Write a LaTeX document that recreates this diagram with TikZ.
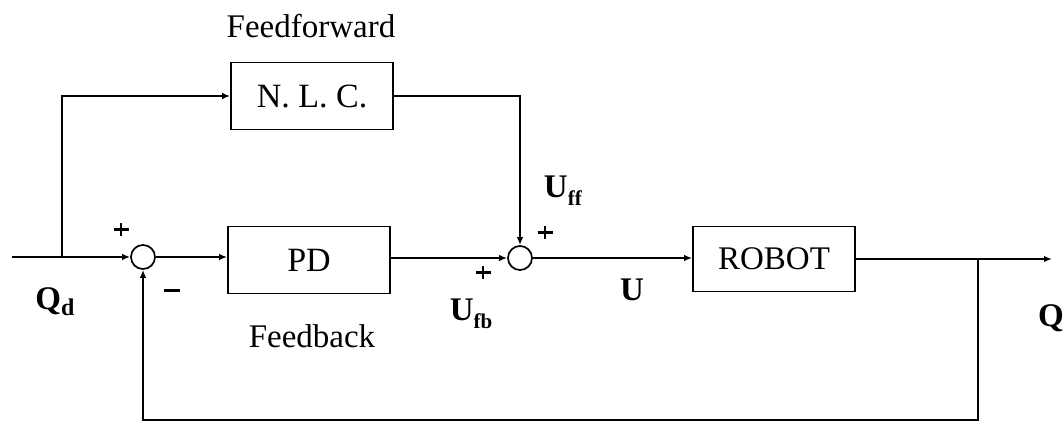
\documentclass[tikz,border=0pt]{standalone}
\usepackage{fontspec}
\setmainfont{Liberation Serif}
\usetikzlibrary{arrows.meta}
\newcommand{\plusmark}{\rlap{\rule[5pt]{15pt}{2.8pt}}\hspace{6.1pt}\rule{2.8pt}{13pt}\hspace{6.1pt}}
\begin{document}
\begin{tikzpicture}[x=1pt,y=-1pt,
  line width=1.7pt,
  >={Latex[length=8pt,width=6.5pt]},
  blk/.style={draw,rectangle,minimum width=162pt,minimum height=67pt,inner sep=0pt,font=\fontsize{34}{40}\selectfont},
  sumj/.style={draw,circle,minimum size=24pt,inner sep=0pt},
  lbl/.style={inner sep=0pt,font=\fontsize{33}{40}\selectfont},
  sgn/.style={inner sep=0pt}]
\useasboundingbox (0,0) rectangle (1063,423);
% blocks
\node[blk] (nlc) at (312,96) {N. L. C.};
\node[blk] (pd) at (309,260) {PD};
\node[blk,minimum height=65pt,font=\fontsize{33}{40}\selectfont] (robot) at (774,259) {ROBOT};
\node[sumj] (s1) at (143,257) {};
\node[sumj] (s2) at (520,258) {};
% coordinates
\coordinate (in) at (12,257);
\coordinate (br) at (62,257);
\coordinate (out) at (1052,259);
\coordinate (fb) at (978,259);
% connectors
\draw (in) -- (br);
\draw[->] (br) -- (s1.west);
\draw[->] (br) |- (nlc.west);
\draw[->] (nlc.east) -| (s2.north);
\draw[->] (s1.east) -- (pd.west |- s1.east);
\draw[->] (pd.east |- s2.west) -- (s2.west);
\draw[->] (s2.east) -- (robot.west |- s2.east);
\draw[->] (robot.east |- out) -- (out);
\draw[->] (fb) -- (978,420) -| (s1.south);
% labels
\node[lbl] (tff) at (311,26) {Feedforward};
\node[lbl] (tfb) at (312,336) {Feedback};
\node[sgn] (p1) at (118,229) {\plusmark};
\node[sgn] (m1) at (172,290) {\rule{16pt}{3pt}};
\node[lbl] (qd) at (55,302) {\textbf{Q}\raisebox{-6pt}{\fontsize{24}{28}\selectfont\textbf{d}}};
\node[lbl] (uff) at (563,191) {\textbf{U}\raisebox{-8pt}{\fontsize{21}{24}\selectfont\textbf{ff}}};
\node[sgn] (p2) at (542,232) {\plusmark};
\node[sgn] (p3) at (480,272) {\plusmark};
\node[lbl] (ufb) at (471,314) {\textbf{U}\raisebox{-8pt}{\fontsize{21}{24}\selectfont\textbf{fb}}};
\node[lbl] (u) at (632,290) {\textbf{U}};
\node[lbl] (q) at (1051,318) {\textbf{Q}};
\end{tikzpicture}
\end{document}
